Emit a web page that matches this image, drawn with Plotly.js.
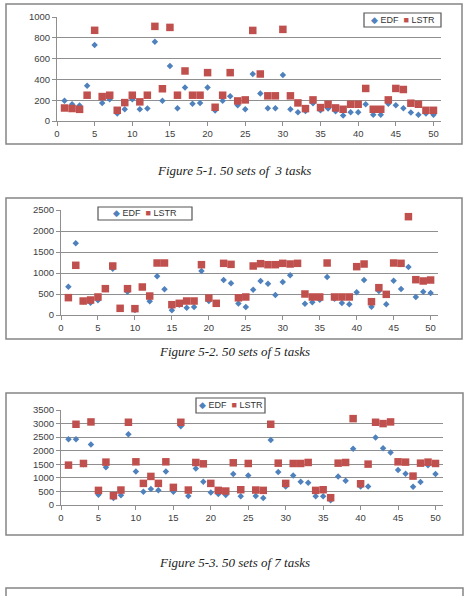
<!DOCTYPE html>
<html><head><meta charset="utf-8">
<script src="https://cdn.plot.ly/plotly-3.0.1.min.js"></script>
<style>html,body{margin:0;padding:0;background:#fff;}#chart{width:469px;height:596px;}</style>
</head><body><div id="chart"></div>
<script>
// Set index (x) for each of the 50 task sets
const SETS = [1,2,3,4,5,6,7,8,9,10,11,12,13,14,15,16,17,18,19,20,21,22,23,24,25,26,27,28,29,30,31,32,33,34,35,36,37,38,39,40,41,42,43,44,45,46,47,48,49,50];

// Figure 5-1: 50 sets of 3 tasks
const EDF_3 = [195,160,150,340,730,174,210,71,113,210,113,119,761,194,529,123,323,165,174,323,100,194,239,152,113,452,265,123,123,442,113,84,97,171,103,119,94,52,84,84,161,61,61,165,152,123,81,61,71,61];
const LSTR_3 = [125,120,112,248,872,235,248,103,177,248,184,248,910,310,900,248,481,248,248,465,132,248,465,193,203,871,452,242,242,881,242,174,119,203,129,161,126,113,161,161,313,113,113,203,313,303,171,161,103,103];

// Figure 5-2: 50 sets of 5 tasks
const EDF_5 = [675,1706,320,294,349,620,1103,150,556,119,660,325,921,611,111,246,175,190,1048,333,275,833,754,275,190,603,810,746,476,786,944,1225,270,302,365,905,389,286,254,540,833,198,571,254,817,619,1143,429,556,524];
const LSTR_5 = [413,1183,333,357,429,627,1167,159,627,151,667,452,1238,1238,246,278,333,333,1198,405,278,1230,1206,409,429,1167,1222,1198,1198,1230,1214,1230,500,429,429,1238,429,429,429,1151,1214,317,651,492,1238,1230,2341,841,810,833];

// Figure 5-3: 50 sets of 7 tasks
const EDF_7 = [2423,2423,1500,2228,379,1395,257,355,2607,1236,490,588,539,1236,490,2901,330,1346,857,465,404,367,1138,318,1089,330,257,2399,1212,685,1089,857,820,318,318,171,1053,894,2069,685,685,2485,2093,1934,1285,1151,673,845,1469,1138];
const LSTR_7 = [1469,2974,1530,3060,539,1579,343,551,3048,1591,796,1053,796,1591,649,3048,551,1567,1518,796,539,514,1555,563,1530,551,539,2974,1542,796,1530,1530,1567,539,563,269,1542,1567,3182,783,1506,3048,2999,3060,1591,1579,1065,1542,1579,1530];

const SERIES_NAMES = ['EDF','LSTR'];
const CAPTIONS = ['Figure 5-1. 50 sets of  3 tasks','Figure 5-2. 50 sets of 5 tasks','Figure 5-3. 50 sets of 7 tasks'];
const X_TICKS = [0,5,10,15,20,25,30,35,40,45,50];

const W = 469, H = 596;
const BLUE = '#4F81BD', RED = '#C0504D', GRID = '#8f8f8f', BORDER = '#858585';
const px = v => v / W;
const py = v => 1 - v / H;

const panels = [
  {edf: EDF_3, lstr: LSTR_3, xd: [57, 441], yd: [17, 121], ymax: 1000, dtick: 200,
   box: [6, 4, 462, 144], legend: [364, 441, 13, 27], cap: 170},
  {edf: EDF_5, lstr: LSTR_5, xd: [61, 438], yd: [210, 315], ymax: 2500, dtick: 500,
   box: [6, 198, 462, 339], legend: [98, 192, 207, 220], cap: 351},
  {edf: EDF_7, lstr: LSTR_7, xd: [61, 443], yd: [410, 505], ymax: 3500, dtick: 500,
   box: [6, 393, 463, 535], legend: [196, 265, 398, 413], cap: 562}
];

const traces = [];
const layout = {
  width: W, height: H, margin: {l: 0, r: 0, t: 0, b: 0},
  paper_bgcolor: '#fff', plot_bgcolor: 'rgba(0,0,0,0)',
  showlegend: false, shapes: [], annotations: [],
  font: {family: 'Liberation Sans, Arial, sans-serif', size: 9, color: '#404040'}
};

panels.forEach((p, i) => {
  const n = i === 0 ? '' : String(i + 1);
  const xa = 'x' + n, ya = 'y' + n;
  traces.push({x: SETS, y: p.edf, name: SERIES_NAMES[0], type: 'scatter', mode: 'markers',
    xaxis: xa, yaxis: ya, marker: {symbol: 'diamond', size: 5, color: BLUE}});
  traces.push({x: SETS, y: p.lstr, name: SERIES_NAMES[1], type: 'scatter', mode: 'markers',
    xaxis: xa, yaxis: ya, marker: {symbol: 'square', size: 7.5, color: RED}});
  layout['xaxis' + n] = {
    domain: [px(p.xd[0]), px(p.xd[1])], range: [0, 51], anchor: ya,
    tickmode: 'array', tickvals: X_TICKS, ticktext: X_TICKS.map(String),
    showgrid: false, zeroline: false, showline: true, linecolor: GRID, linewidth: 1,
    ticks: 'outside', ticklen: 4, tickcolor: GRID, tickfont: {size: 9.5, color: '#404040'},
    fixedrange: true
  };
  layout['yaxis' + n] = {
    domain: [py(p.yd[1]), py(p.yd[0])], range: [0, p.ymax], dtick: p.dtick, anchor: xa,
    showgrid: true, gridcolor: GRID, gridwidth: 1, zeroline: false,
    showline: true, linecolor: GRID, linewidth: 1, ticks: 'outside', ticklen: 4, tickcolor: GRID,
    tickfont: {size: 9.5, color: '#404040'}, fixedrange: true
  };
  const b = p.box;
  layout.shapes.push({type: 'rect', xref: 'paper', yref: 'paper',
    x0: px(b[0]), x1: px(b[2]), y0: py(b[3]), y1: py(b[1]),
    line: {color: BORDER, width: 1.5}, fillcolor: 'rgba(0,0,0,0)'});
  const L = p.legend;
  layout.shapes.push({type: 'rect', xref: 'paper', yref: 'paper',
    x0: px(L[0]), x1: px(L[1]), y0: py(L[3]), y1: py(L[2]),
    line: {color: '#555', width: 1.2}, fillcolor: '#fff'});
  layout.annotations.push({xref: 'paper', yref: 'paper', x: px((L[0] + L[1]) / 2), y: py((L[2] + L[3]) / 2),
    xanchor: 'center', yanchor: 'middle', showarrow: false,
    text: '<span style="color:' + BLUE + '">◆</span> ' + SERIES_NAMES[0] +
          '  <span style="color:' + RED + '">■</span> ' + SERIES_NAMES[1],
    font: {size: 9, color: '#333', family: 'Liberation Sans, Arial, sans-serif'}});
  layout.annotations.push({xref: 'paper', yref: 'paper', x: px(234), y: py(p.cap),
    xanchor: 'center', yanchor: 'middle', showarrow: false,
    text: '<i>' + CAPTIONS[i] + '</i>',
    font: {size: 13, color: '#222', family: 'Liberation Serif, Times New Roman, serif'}});
});

// Top edge of the next figure's frame at the bottom of the page
layout.shapes.push({type: 'rect', xref: 'paper', yref: 'paper',
  x0: px(6), x1: px(463), y0: py(640), y1: py(588),
  line: {color: BORDER, width: 1.5}, fillcolor: 'rgba(0,0,0,0)'});

Plotly.newPlot('chart', traces, layout, {displayModeBar: false, staticPlot: true});
</script></body></html>
